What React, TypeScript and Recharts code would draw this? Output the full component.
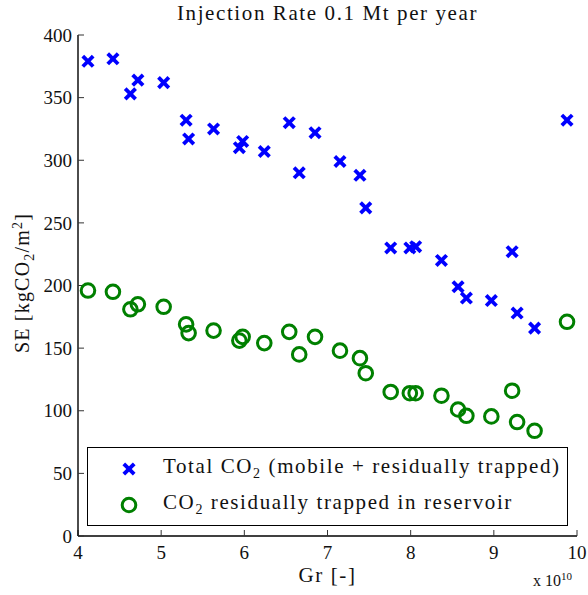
import { ScatterChart, Scatter, XAxis, YAxis } from 'recharts';

// Grashof number (x 1e10) for each simulated case
const GR = [
  4.12, 4.42, 4.63, 4.72, 5.03, 5.3, 5.33, 5.63, 5.94, 5.98, 6.24, 6.54, 6.66, 6.85,
  7.15, 7.39, 7.46, 7.76, 7.99, 8.06, 8.37, 8.57, 8.67, 8.97, 9.22, 9.28, 9.49, 9.88,
];

// storage efficiency, kgCO2/m2
const TOTAL_SE = [
  379, 381, 353, 364, 362, 332, 317, 325, 310, 315, 307, 330, 290, 322,
  299, 288, 262, 230, 230, 231, 220, 199, 190, 188, 227, 178, 166, 332,
];
const TRAPPED_SE = [
  196, 195, 181, 185, 183, 169, 162, 164, 156, 159, 154, 163, 145, 159,
  148, 142, 130, 115, 114, 114, 112, 101, 96, 95.5, 116, 91, 84, 171,
];

const X_TICKS = [4, 5, 6, 7, 8, 9, 10];
const Y_TICKS = [0, 50, 100, 150, 200, 250, 300, 350, 400];

const totalData = GR.map((gr, i) => ({ gr, se: TOTAL_SE[i] }));
const trappedData = GR.map((gr, i) => ({ gr, se: TRAPPED_SE[i] }));

const FONT = '"Liberation Serif", "Times New Roman", serif';
const tickStyle = { fontSize: 19, fill: '#111', fontFamily: FONT };
const textStyle = { fontSize: 21, letterSpacing: 1.6 };

function Cross({ cx, cy }: any) {
  const r = 5.2;
  return (
    <g stroke="#0000ff" strokeWidth={3.8} strokeLinecap="butt">
      <line x1={cx - r} y1={cy - r} x2={cx + r} y2={cy + r} />
      <line x1={cx - r} y1={cy + r} x2={cx + r} y2={cy - r} />
    </g>
  );
}

function Ring({ cx, cy }: any) {
  return <circle cx={cx} cy={cy} r={6.8} fill="none" stroke="#008000" strokeWidth={3} />;
}

export default function App() {
  return (
    <div style={{ position: 'absolute', left: 0, top: 0, width: 588, height: 595, fontFamily: FONT, color: '#111' }}>
      <ScatterChart width={588} height={595} margin={{ top: 35, right: 11, bottom: 0, left: 0 }}>
        <XAxis
          dataKey="gr"
          type="number"
          domain={[4, 10]}
          ticks={X_TICKS}
          tickSize={-6}
          tickMargin={16}
          height={59}
          tick={tickStyle}
          axisLine={{ stroke: '#000', strokeWidth: 1.4 }}
          tickLine={{ stroke: '#333' }}
        />
        <XAxis
          xAxisId="top"
          orientation="top"
          type="number"
          domain={[4, 10]}
          ticks={X_TICKS}
          tickSize={-6}
          height={0}
          tick={false}
          axisLine={{ stroke: '#000', strokeWidth: 1.4 }}
          tickLine={{ stroke: '#333' }}
        />
        <YAxis
          dataKey="se"
          type="number"
          domain={[0, 400]}
          ticks={Y_TICKS}
          tickSize={-6}
          tickMargin={12}
          width={78}
          tick={tickStyle}
          axisLine={{ stroke: '#000', strokeWidth: 1.4 }}
          tickLine={{ stroke: '#333' }}
        />
        <YAxis
          yAxisId="right"
          orientation="right"
          type="number"
          domain={[0, 400]}
          ticks={Y_TICKS}
          tickSize={-6}
          width={0}
          tick={false}
          axisLine={{ stroke: '#000', strokeWidth: 1.4 }}
          tickLine={{ stroke: '#333' }}
        />
        <Scatter data={totalData} shape={Cross} isAnimationActive={false} />
        <Scatter data={trappedData} shape={Ring} isAnimationActive={false} />
      </ScatterChart>

      <div style={{ position: 'absolute', left: 78, width: 499, top: 1, textAlign: 'center', ...textStyle }}>
        Injection Rate 0.1 Mt per year
      </div>

      <div
        style={{ position: 'absolute', left: 78, width: 499, top: 565, lineHeight: 1, textAlign: 'center', ...textStyle }}
      >
        Gr [-]
      </div>
      <div style={{ position: 'absolute', left: 533, top: 570, fontSize: 16 }}>
        x 10<sup style={{ fontSize: 11 }}>10</sup>
      </div>

      <div
        style={{
          position: 'absolute',
          left: 24,
          top: 283,
          transform: 'translate(-50%, -50%) rotate(-90deg)',
          whiteSpace: 'nowrap',
          fontSize: 20,
          letterSpacing: 1.2,
        }}
      >
        SE [kgCO<sub style={{ fontSize: 14 }}>2</sub>/m<sup style={{ fontSize: 14 }}>2</sup>]
      </div>

      <div
        style={{
          position: 'absolute',
          left: 87,
          top: 447,
          width: 481,
          height: 79,
          boxSizing: 'border-box',
          border: '1.4px solid #000',
          background: '#fff',
          ...textStyle,
        }}
      >
        <svg width={30} height={79} style={{ position: 'absolute', left: 26, top: 0 }}>
          <Cross cx={15} cy={21} />
          <Ring cx={15} cy={57} />
        </svg>
        <div style={{ position: 'absolute', left: 75, top: 6, whiteSpace: 'nowrap' }}>
          Total CO<sub style={{ fontSize: 14 }}>2</sub> (mobile + residually trapped)
        </div>
        <div style={{ position: 'absolute', left: 75, top: 42, whiteSpace: 'nowrap' }}>
          CO<sub style={{ fontSize: 14 }}>2</sub> residually trapped in reservoir
        </div>
      </div>
    </div>
  );
}
